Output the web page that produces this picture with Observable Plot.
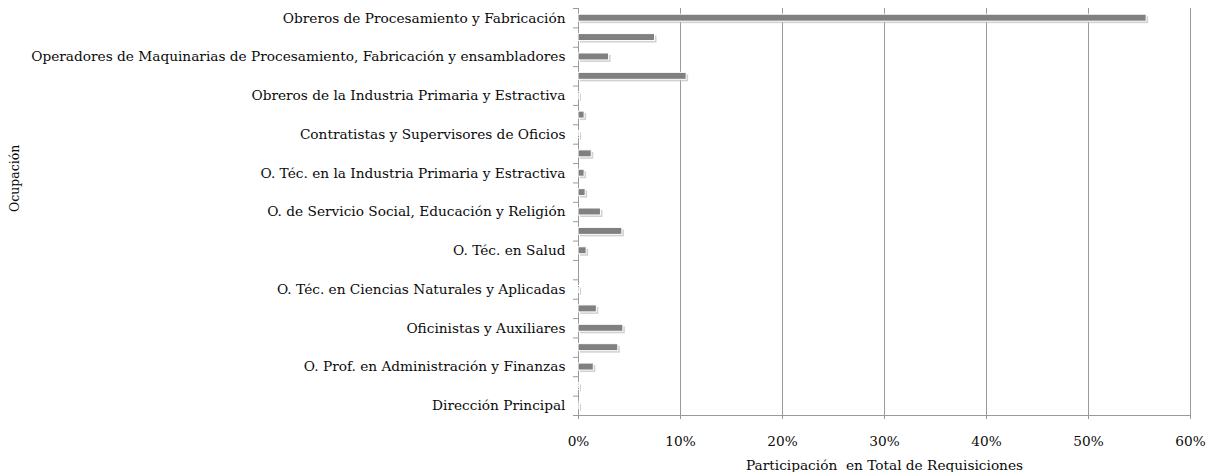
<!DOCTYPE html>
<html>
<head>
<meta charset="utf-8">
<script src="https://cdn.jsdelivr.net/npm/d3@7"></script>
<script src="https://cdn.jsdelivr.net/npm/@observablehq/plot@0.6"></script>
<style>
  html, body { margin: 0; padding: 0; background: #fff; }
  #chart svg { display: block; }
</style>
</head>
<body>
<div id="chart"></div>
<script>
// Categories, top to bottom (only every other label is displayed, as in the original)
const categories = [
  "Obreros de Procesamiento y Fabricación",
  "Ayudantes en Procesamiento y Fabricación",
  "Operadores de Maquinarias de Procesamiento, Fabricación y ensambladores",
  "O. Téc. en Procesamiento y Fabricación",
  "Obreros de la Industria Primaria y Estractiva",
  "Operadores de Transporte y Equipos",
  "Contratistas y Supervisores de Oficios",
  "O. de Ventas y Servicios",
  "O. Téc. en la Industria Primaria y Estractiva",
  "O. en Arte, Cultura, Recreación y Deporte",
  "O. de Servicio Social, Educación y Religión",
  "O. Prof. en Ciencias Sociales y Educación",
  "O. Téc. en Salud",
  "O. Prof. en Salud",
  "O. Téc. en Ciencias Naturales y Aplicadas",
  "O. Prof. en Ciencias Naturales y Aplicadas",
  "Oficinistas y Auxiliares",
  "O. Téc. en Administración y Finanzas",
  "O. Prof. en Administración y Finanzas",
  "Dirección Media",
  "Dirección Principal"
];
// Share of total requisitions (fraction)
const shares = [
  0.557, 0.075, 0.030, 0.106, 0.001, 0.006, 0.001, 0.013, 0.006, 0.007, 0.022,
  0.043, 0.008, 0.000, 0.001, 0.018, 0.044, 0.039, 0.015, 0.001, 0.001
];
const xTicks = [0, 0.1, 0.2, 0.3, 0.4, 0.5, 0.6];
const xTitle = "Participación  en Total de Requisiciones";
const yTitle = "Ocupación";

const data = categories.map((c, i) => ({ cat: c, value: shares[i], idx: i }));
const shownLabels = new Set(categories.filter((c, i) => i % 2 === 0));

const font = "'DejaVu Serif', serif";
const gridColor = "#9a9a9a";
const innerH = 472 - 8 - 57;
const step = innerH / categories.length;

const chart = Plot.plot({
  width: 1212,
  height: 472,
  marginLeft: 578,
  marginRight: 22,
  marginTop: 8,
  marginBottom: 57,
  style: { fontFamily: font, fontSize: "13.7px", color: "#0a0a0a", background: "#fff" },
  x: { domain: [0, 0.6] },
  y: { domain: categories, paddingInner: 0.64, paddingOuter: 0.32, round: false },
  marks: [
    Plot.gridX(xTicks, { stroke: gridColor, strokeOpacity: 1, strokeWidth: 1 }),
    Plot.ruleX([0], { stroke: gridColor }),
    Plot.frame({ anchor: "bottom", stroke: gridColor }),
    Plot.axisX(xTicks, {
      tickFormat: d3.format(".0%"), tickSize: 4, stroke: gridColor, tickPadding: 17,
      fontSize: 13.7, fill: "#0a0a0a", label: null
    }),
    Plot.text([xTitle], { frameAnchor: "bottom", dy: 54, fontSize: 13.7, fill: "#0a0a0a" }),
    Plot.axisY({
      tickSize: 0, tickPadding: 13, fontSize: 13.7, fill: "#0a0a0a", label: null,
      tickFormat: d => shownLabels.has(d) ? d : ""
    }),
    Plot.axisY({ text: null, tickSize: 5, stroke: gridColor, dy: -step / 2, label: null }),
    Plot.axisY(categories.slice(-1), { text: null, tickSize: 5, stroke: gridColor, dy: step / 2, label: null }),
    Plot.text([yTitle], { frameAnchor: "left", dx: -564, rotate: -90, fontSize: 12.5, fill: "#0a0a0a" }),
    // shadow
    Plot.barX(data, { x: "value", y: "cat", fill: "#bdbdbd", fillOpacity: 0.7, dx: 2, dy: 2 }),
    Plot.barX(data, { x: "value", y: "cat", fill: "#808080", stroke: "#ffffff", strokeWidth: 1 })
  ]
});

document.getElementById("chart").appendChild(chart);
</script>
</body>
</html>
